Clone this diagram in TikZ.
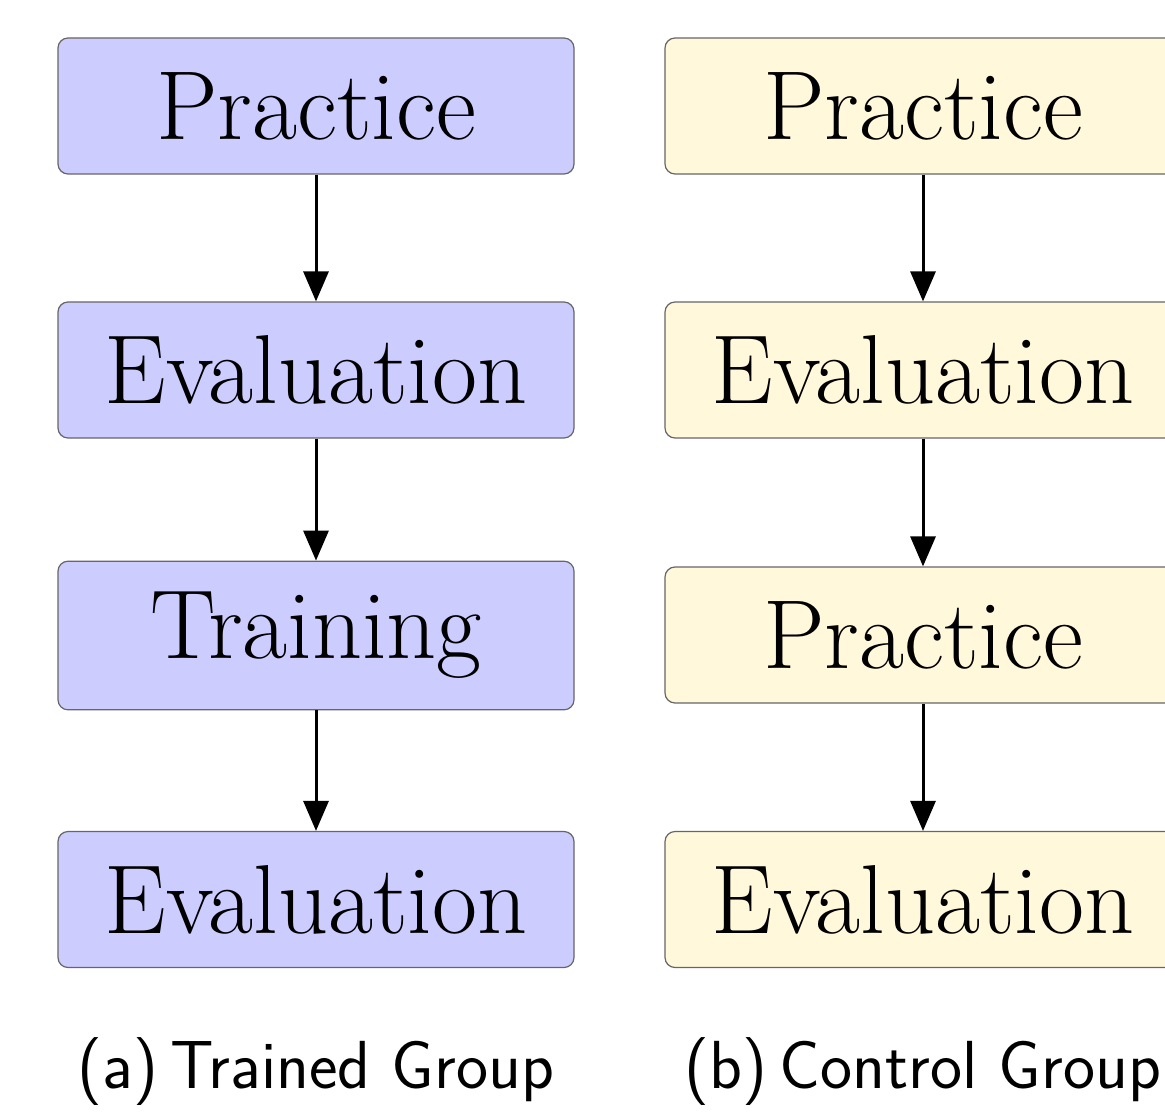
\documentclass[tikz,border=0pt]{standalone}
\usetikzlibrary{arrows.meta}
\definecolor{trainfill}{RGB}{204,204,255}
\definecolor{ctrlfill}{RGB}{255,248,218}
\begin{document}
\begin{tikzpicture}[x=0.5pt,y=-0.5pt,
  stage/.style={draw=black!60, line width=0.6pt, rounded corners=5pt,
    minimum width=258pt, minimum height=68pt, inner xsep=6pt, inner ysep=15.5pt,
    font=\fontsize{49}{52}\selectfont},
  trained/.style={stage, fill=trainfill},
  control/.style={stage, fill=ctrlfill},
  flow/.style={line width=1.5pt, -{Triangle[length=15pt,width=12.5pt]}},
  groupcap/.style={anchor=base, inner sep=0pt, font=\sffamily\fontsize{34}{40}\selectfont}]
\clip (0,0) rectangle (1165,1117);

% trained group
\node[trained] (a1) at (316,106)   {Practice};
\node[trained] (a2) at (316,370)   {Evaluation};
\node[trained] (a3) at (316,635.5) {Training};
\node[trained] (a4) at (316,899.5) {Evaluation};
\draw[flow] (a1) -- (a2);
\draw[flow] (a2) -- (a3);
\draw[flow] (a3) -- (a4);

% control group
\node[control] (b1) at (923,106)   {Practice};
\node[control] (b2) at (923,370)   {Evaluation};
\node[control] (b3) at (923,635)   {Practice};
\node[control] (b4) at (923,899.5) {Evaluation};
\draw[flow] (b1) -- (b2);
\draw[flow] (b2) -- (b3);
\draw[flow] (b3) -- (b4);

% sub-captions
\node[groupcap] (ca) at (316,1088) {(a)\hspace{0.18em}Trained Group};
\node[groupcap] (cb) at (923,1088) {(b)\hspace{0.18em}Control Group};
\end{tikzpicture}
\end{document}
